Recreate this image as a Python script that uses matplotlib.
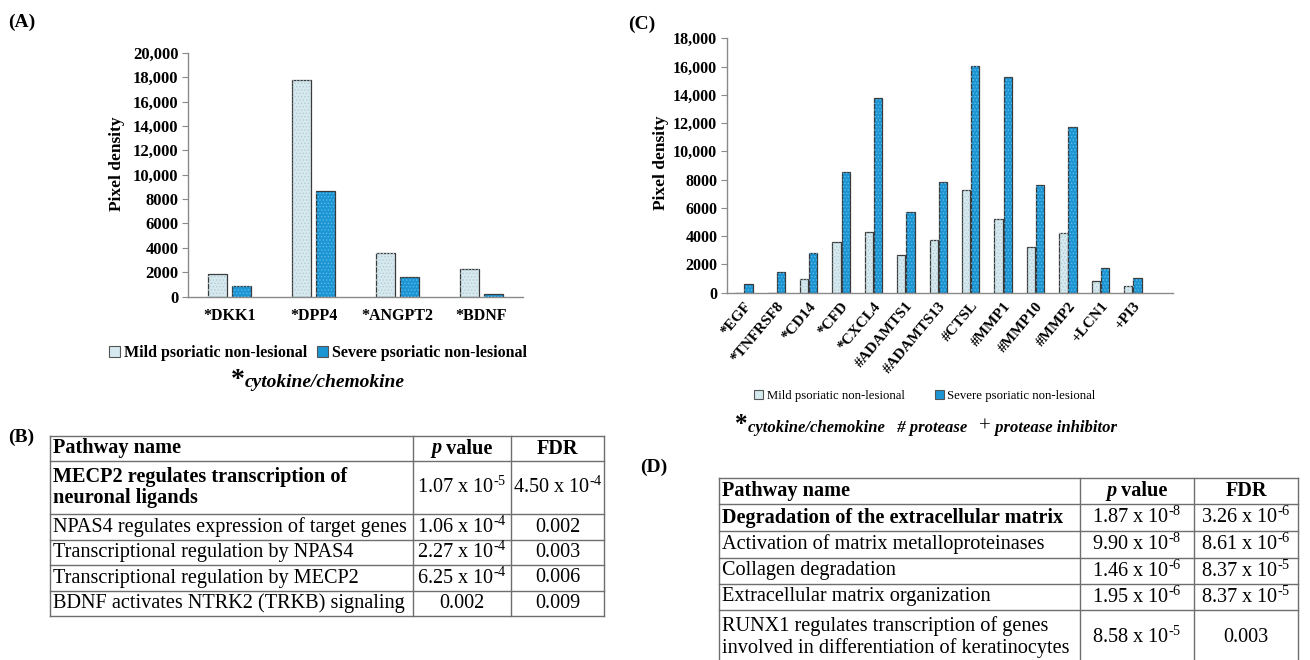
import matplotlib
matplotlib.use("Agg")
import matplotlib.pyplot as plt
from matplotlib.patches import Patch
from matplotlib.lines import Line2D
from matplotlib.offsetbox import TextArea, HPacker, AnnotationBbox
import numpy as np

plt.rcParams['font.family'] = ['Liberation Serif', 'DejaVu Serif']
plt.rcParams['mathtext.fontset'] = 'custom'
plt.rcParams['mathtext.rm'] = 'Liberation Serif'
plt.rcParams['mathtext.it'] = 'Liberation Serif:italic'
plt.rcParams['mathtext.bf'] = 'Liberation Serif:bold'
plt.rcParams['hatch.linewidth'] = 0.6

# ---------------- data ----------------
genes_A = ["*DKK1", "*DPP4", "*ANGPT2", "*BDNF"]
mild_A = [1900, 17800, 3550, 2300]
severe_A = [850, 8650, 1600, 220]

genes_C = ["*EGF", "*TNFRSF8", "*CD14", "*CFD", "*CXCL4", "#ADAMTS1", "#ADAMTS13",
           "#CTSL", "#MMP1", "#MMP10", "#MMP2", "+LCN1", "+PI3"]
mild_C = [0, 0, 1000, 3580, 4300, 2660, 3700, 7280, 5250, 3230, 4200, 800, 470]
severe_C = [650, 1480, 2830, 8510, 13800, 5700, 7830, 16060, 15240, 7640, 11700, 1770, 1060]

series_names = ["Mild psoriatic non-lesional", "Severe psoriatic non-lesional"]

table_B_path = ["MECP2 regulates transcription of\nneuronal ligands",
                "NPAS4 regulates expression of target genes",
                "Transcriptional regulation by NPAS4",
                "Transcriptional regulation by MECP2",
                "BDNF activates NTRK2 (TRKB) signaling"]
table_B_p = ["1.07 x 10^-5", "1.06 x 10^-4", "2.27 x 10^-4", "6.25 x 10^-4", "0.002"]
table_B_fdr = ["4.50 x 10^-4", "0.002", "0.003", "0.006", "0.009"]

table_D_path = ["Degradation of the extracellular matrix",
                "Activation of matrix metalloproteinases",
                "Collagen degradation",
                "Extracellular matrix organization",
                "RUNX1 regulates transcription of genes\ninvolved in differentiation of keratinocytes"]
table_D_p = ["1.87 x 10^-8", "9.90 x 10^-8", "1.46 x 10^-6", "1.95 x 10^-6", "8.58 x 10^-5"]
table_D_fdr = ["3.26 x 10^-6", "8.61 x 10^-6", "8.37 x 10^-5", "8.37 x 10^-5", "0.003"]

# ---------------- style ----------------
W, H = 1310, 660
MILD = '#d5e9ef'
SEV = '#1b95d3'
EDGE = '#3a3a3a'
SPINE = '#8a8a8a'

fig = plt.figure(figsize=(W / 100, H / 100), dpi=100)


def fx(x):
    return x / W


def fy(y):
    return 1 - y / H


def tick_fmt(v):
    v = int(v)
    return f"{v:,}" if v >= 10000 else str(v)


def draw_bars(ax, n, mild, severe, width, off):
    x = np.arange(n)
    ax.bar(x - off, mild, width, color=MILD, edgecolor=EDGE, linewidth=0.9, zorder=2)
    ax.bar(x + off, severe, width, color=SEV, edgecolor=EDGE, linewidth=0.9, zorder=2)
    ax.bar(x - off, mild, width, facecolor='none', edgecolor='#b5cdd4', linewidth=0,
           hatch='.....', zorder=3)
    ax.bar(x + off, severe, width, facecolor='none', edgecolor='#5fb8e6', linewidth=0,
           hatch='.....', zorder=3)
    return x


def style_axis(ax, ymax, fs, label_xy):
    for s in ['top', 'right']:
        ax.spines[s].set_visible(False)
    for s in ['left', 'bottom']:
        ax.spines[s].set_color(SPINE)
        ax.spines[s].set_linewidth(1.0)
    ticks = np.arange(0, ymax + 1, 2000)
    ax.set_ylim(0, ymax)
    ax.set_yticks(ticks)
    ax.set_yticklabels([tick_fmt(t) for t in ticks], fontsize=fs, fontweight='bold')
    ax.tick_params(axis='y', direction='out', length=4, color=SPINE, pad=3)
    ax.tick_params(axis='x', length=0)
    ax.set_ylabel("Pixel density", fontsize=12.5, fontweight='bold')
    ax.yaxis.set_label_coords(*label_xy)


# ---------------- Panel A ----------------
axA = fig.add_axes([fx(188), fy(296.7), fx(523 - 188), (296.7 - 52.7) / H])
xA = draw_bars(axA, len(genes_A), mild_A, severe_A, 0.227, 0.143)
axA.set_xlim(-0.5, 3.5)
style_axis(axA, 20000, 12, (-0.188, 0.545))
axA.set_xticks(xA)
axA.set_xticklabels(genes_A, fontsize=11.5, fontweight='bold')
axA.tick_params(axis='x', pad=8)

handles_A = [Patch(facecolor=MILD, edgecolor='#555555', linewidth=0.8),
             Patch(facecolor=SEV, edgecolor='#555555', linewidth=0.8)]
fig.legend(handles_A, series_names, loc='center', bbox_to_anchor=(fx(318), fy(353)),
           ncol=2, frameon=False, handlelength=0.7, handleheight=0.7, handletextpad=0.25,
           columnspacing=0.6, prop={'family': 'Liberation Serif', 'weight': 'bold', 'size': 11.5})


def rich_line(parts, xy):
    boxes = [TextArea(t, textprops=p) for t, p in parts]
    pack = HPacker(children=boxes, align='baseline', pad=0, sep=0)
    ab = AnnotationBbox(pack, xy, xycoords='figure fraction', frameon=False,
                        box_alignment=(0.5, 0.5), pad=0)
    fig.add_artist(ab)


def bi(size):
    return dict(family='Liberation Serif', weight='bold', style='italic', size=size)


rich_line([("*", dict(family='Liberation Serif', weight='bold', size=20)),
           ("cytokine/chemokine", bi(14))], (fx(318), fy(380)))

# ---------------- Panel C ----------------
axC = fig.add_axes([fx(727), fy(292.7), fx(1173 - 727), (292.7 - 38.3) / H])
xC = draw_bars(axC, len(genes_C), mild_C, severe_C, 0.256, 0.142)
axC.set_xlim(-0.52, 13.24)
style_axis(axC, 18000, 11.5, (-0.13, 0.51))
axC.set_xticks(xC)
axC.set_xticklabels(genes_C, fontsize=11, fontweight='bold', rotation=50,
                    ha='right', va='top', rotation_mode='anchor')
axC.tick_params(axis='x', pad=5)

handles_C = [Patch(facecolor=MILD, edgecolor='#555555', linewidth=0.8),
             Patch(facecolor=SEV, edgecolor='#555555', linewidth=0.8)]
fig.legend(handles_C, series_names, loc='center', bbox_to_anchor=(fx(925), fy(396)),
           ncol=2, frameon=False, handlelength=0.7, handleheight=0.7, handletextpad=0.25,
           columnspacing=2.4, prop={'family': 'Liberation Serif', 'size': 9.2})

rich_line([("*", dict(family='Liberation Serif', weight='bold', size=18)),
           ("cytokine/chemokine   # protease   ", bi(12)),
           ("+", dict(family='Liberation Serif', weight='normal', size=15)),
           (" protease inhibitor", bi(12))], (fx(926), fy(425)))

# ---------------- panel labels ----------------
for lab, (x, y) in {"(A)": (8, 22), "(C)": (628, 24), "(B)": (8, 437), "(D)": (640, 467)}.items():
    fig.text(fx(x), fy(y), lab, fontsize=14, fontweight='bold', ha='left', va='center')


# ---------------- tables ----------------
def fmt_val(s):
    if "^" in s:
        base, exp = s.split("^")
        return base + r"$^{" + exp.replace("-", "\u2010") + "}$"
    return s


def hline(x0, x1, y):
    fig.add_artist(Line2D([fx(x0), fx(x1)], [fy(y), fy(y)], color='#6e6e6e', lw=1.0))


def vline(x, y0, y1):
    fig.add_artist(Line2D([fx(x), fx(x)], [fy(y0), fy(y1)], color='#6e6e6e', lw=1.0))


def draw_table(cols, rows, paths, pvals, fdrs, fs):
    x0, xc1, xc2, x1 = cols
    for y in rows:
        hline(x0, x1, y)
    ytop, ybot = rows[0], rows[-1]
    for x in cols:
        vline(x, ytop, ybot)
    pc = (xc1 + xc2) / 2
    fc = (xc2 + x1) / 2
    yh = (rows[0] + rows[1]) / 2
    fig.text(fx(x0 + 3), fy(yh), "Pathway name", fontsize=fs, fontweight='bold',
             ha='left', va='center')
    rich_line([("p", bi(fs)),
               (" value", dict(family='Liberation Serif', weight='bold', size=fs))],
              (fx(pc), fy(yh)))
    fig.text(fx(fc), fy(yh), "FDR", fontsize=fs, fontweight='bold', ha='center', va='center')
    for i in range(len(paths)):
        yc = (rows[i + 1] + rows[i + 2]) / 2
        fig.text(fx(x0 + 3), fy(yc), paths[i], fontsize=fs,
                 fontweight='bold' if i == 0 else 'normal', ha='left', va='center',
                 linespacing=1.1)
        fig.text(fx(pc), fy(yc), fmt_val(pvals[i]), fontsize=fs, ha='center', va='center')
        fig.text(fx(fc), fy(yc), fmt_val(fdrs[i]), fontsize=fs, ha='center', va='center')


draw_table([50, 413, 511, 604], [436, 461, 514, 540, 565, 591, 616],
           table_B_path, table_B_p, table_B_fdr, 14.6)
draw_table([719, 1080, 1194, 1298], [478, 504, 531, 558, 584, 610, 664],
           table_D_path, table_D_p, table_D_fdr, 14.6)

fig.savefig("out.png", dpi=100)
